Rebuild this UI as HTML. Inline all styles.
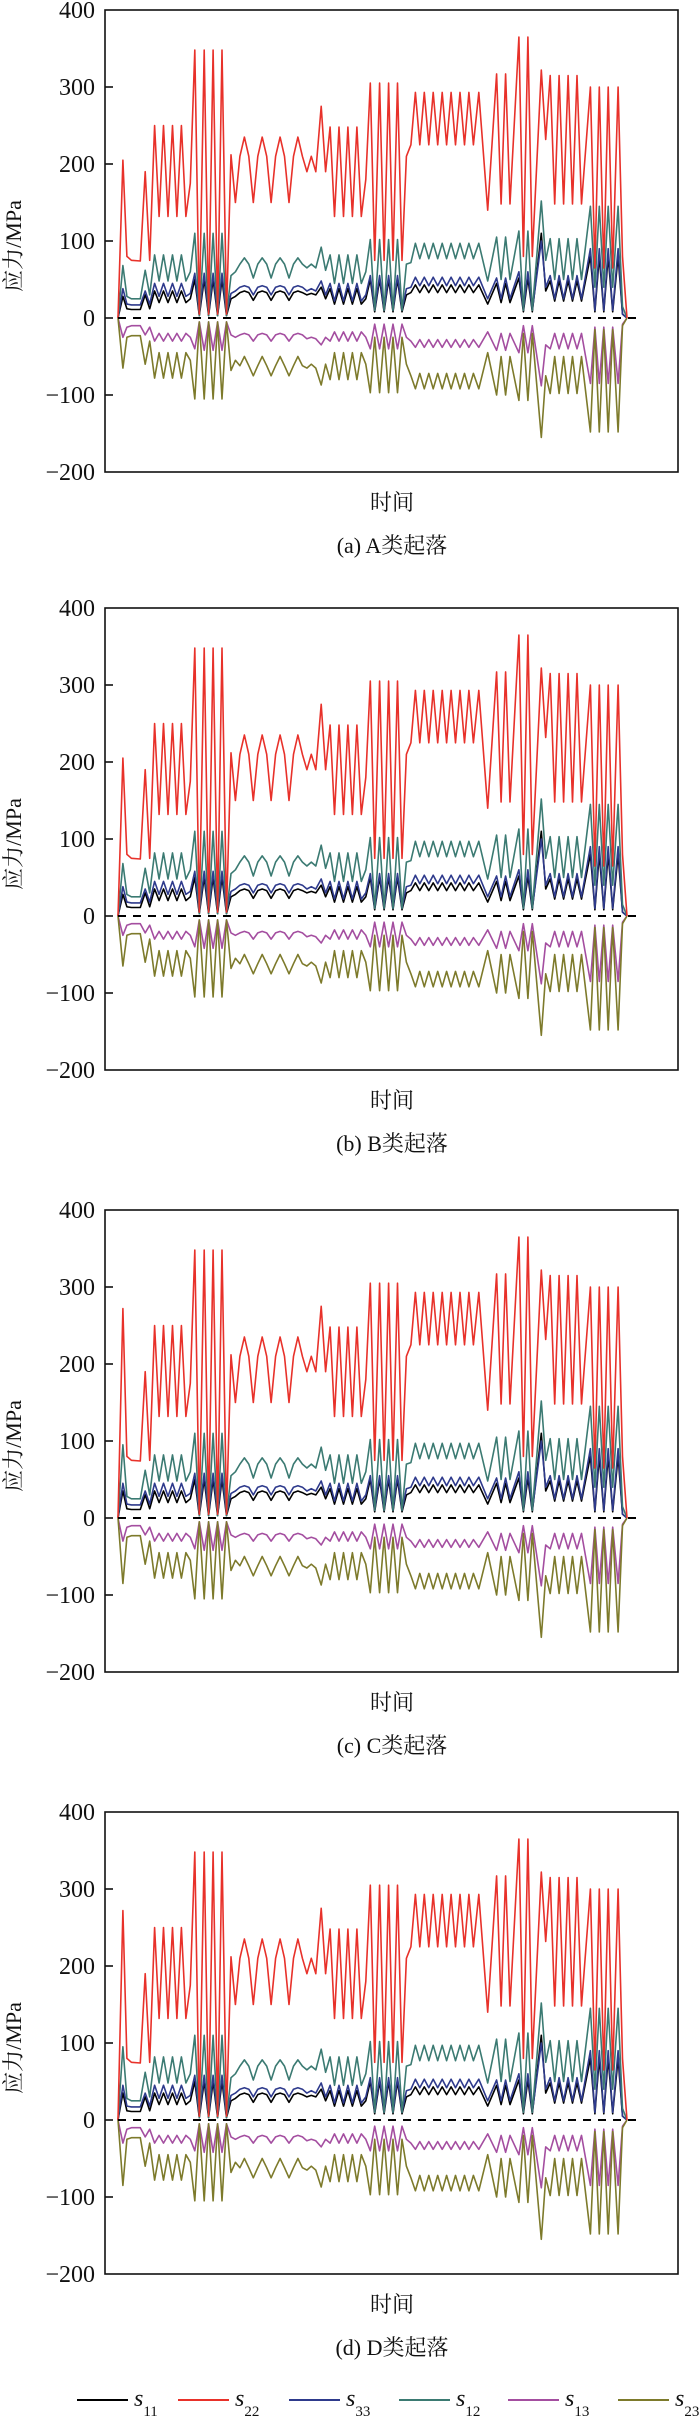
<!DOCTYPE html>
<html><head><meta charset="utf-8">
<style>
html,body{margin:0;padding:0;background:#fff;}
body{width:700px;height:2424px;overflow:hidden;}
svg{display:block;}
.tick{font-family:"Liberation Serif","Noto Serif CJK SC",serif;font-size:24px;fill:#111;}
.cn{font-family:"Liberation Serif","Noto Serif CJK SC",serif;font-size:22px;fill:#111;}
</style></head>
<body>
<svg id="fig" width="700" height="2424" viewBox="0 0 700 2424" xmlns="http://www.w3.org/2000/svg"></svg>
<script>
// ---- data ----
const timeUnits = [265,276,285,295,315,326,336,
347,357,367,377,387,397,407,417,427,
437,447,458,468,478,488,498,508,
518,528,538,548,558,568,578,588,598,608,618,628,638,648,658,668,678,688,698,708,
720,730,
740,750,760,770,780,790,800,810,820,
830,840,851,861,871,881,891,901,
911,921,
931,941,951,961,971,981,991,1001,1011,1021,1031,1041,1051,1061,1073,
1093,1113,1123,1133,1143,1163,1173,1183,1193,
1213,1223,
1233,1243,1253,1263,1273,1283,1293,1303,
1323,1333,1343,1353,1363,1373,1385,1395,1405];
const s22 = [0,205,80,75,74,190,75,
250,132,250,132,250,132,250,132,175,
348,5,348,5,348,5,348,5,
212,150,210,235,210,150,210,235,210,150,210,235,210,150,210,235,210,190,210,190,
275,190,
248,132,248,132,248,132,248,132,180,
305,75,305,75,305,75,305,75,
210,225,
293,225,293,225,293,225,293,225,293,225,293,225,293,225,293,
140,317,148,317,148,365,80,365,80,
322,232,
315,148,315,148,315,148,315,148,
300,65,300,65,300,65,300,80,0];
const s12 = [0,68,28,25,25,62,30,
82,48,82,48,82,48,82,48,60,
110,3,110,3,110,3,110,3,
55,60,70,78,70,52,70,78,70,52,70,78,70,52,70,78,70,65,70,65,
92,62,
82,45,82,45,82,45,82,45,60,
102,10,102,10,102,10,102,10,
70,72,
97,77,97,77,97,77,97,77,97,77,97,77,97,77,97,
48,105,50,105,50,113,10,113,10,
152,75,
103,50,103,50,103,50,103,50,
145,40,145,40,145,40,145,15,0];
const s33 = [0,38,18,17,17,35,18,
45,28,45,28,45,28,45,28,32,
58,5,58,5,58,5,58,5,
32,35,40,42,40,30,40,42,40,30,40,42,40,30,40,42,40,35,38,35,
48,30,
45,22,45,22,45,22,45,22,30,
55,10,55,10,55,10,55,10,
38,40,
53,42,53,42,53,42,53,42,53,42,53,42,53,42,53,
25,52,25,52,25,60,10,60,10,
100,40,
55,25,55,25,55,25,55,25,
90,10,90,10,90,10,90,5,0];
const s11 = [0,28,12,11,11,30,12,
35,20,35,20,35,20,35,20,25,
50,3,50,3,50,3,50,3,
25,28,33,35,33,23,33,35,33,23,33,35,33,23,33,35,33,30,32,30,
40,25,
38,18,38,18,38,18,38,18,25,
50,8,50,8,50,8,50,8,
30,33,
43,33,43,33,43,33,43,33,43,33,43,33,43,33,43,
18,45,20,45,20,52,8,52,8,
110,35,
48,22,48,22,48,22,48,22,
80,8,80,8,80,8,80,5,0];
const s13 = [0,-25,-12,-10,-10,-22,-12,
-30,-20,-30,-20,-30,-20,-30,-20,-25,
-40,-5,-42,-5,-42,-5,-42,-5,
-22,-25,-22,-20,-22,-30,-22,-20,-22,-30,-22,-20,-22,-30,-22,-20,-22,-27,-25,-27,
-35,-25,
-30,-18,-30,-18,-30,-18,-30,-18,-25,
-40,-8,-40,-8,-40,-8,-40,-8,
-25,-30,
-38,-28,-38,-28,-38,-28,-38,-28,-38,-28,-38,-28,-38,-28,-38,
-18,-42,-20,-42,-20,-45,-10,-45,-10,
-88,-35,
-40,-20,-40,-20,-40,-20,-40,-20,
-85,-12,-85,-12,-85,-12,-85,-8,0];
const s23 = [0,-65,-25,-23,-23,-60,-30,
-78,-45,-78,-45,-78,-45,-78,-45,-55,
-105,-5,-105,-5,-105,-5,-105,-5,
-68,-55,-62,-50,-62,-75,-62,-50,-62,-75,-62,-50,-62,-75,-62,-50,-62,-65,-60,-65,
-87,-60,
-80,-45,-80,-45,-80,-45,-80,-45,-60,
-97,-25,-97,-25,-97,-25,-97,-25,
-60,-75,
-92,-72,-92,-72,-92,-72,-92,-72,-92,-72,-92,-72,-92,-72,-92,
-45,-100,-50,-100,-50,-107,-20,-107,-20,
-155,-75,
-98,-50,-98,-50,-98,-50,-98,-50,
-148,-15,-148,-15,-148,-15,-148,-10,0];
const firstPeakS22 = [205,205,272,272];
const firstPeakS12 = [68,68,95,95];
const firstPeakS33 = [38,38,45,45];
const firstPeakS11 = [28,28,35,35];
const firstPeakS13 = [-25,-25,-30,-30];
const firstPeakS23 = [-65,-65,-85,-85];
const yTicks = [400,300,200,100,0,-100,-200];
const captions = ["(a) A类起落","(b) B类起落","(c) C类起落","(d) D类起落"];
const seriesNames = ["s11","s22","s33","s12","s13","s23"];
const seriesSubs = ["11","22","33","12","13","23"];

// ---- layout ----
const NS = "http://www.w3.org/2000/svg";
const svg = document.getElementById("fig");
const panelTops = [10,608,1210,1812];
const plotL = 105, plotR = 678, plotH = 462;
const colors = {s11:"#000000",s22:"#e8312a",s33:"#2e3a8c",s12:"#3b7a72",s13:"#a44ea0",s23:"#7d7a2b"};
const tMin = 265, tMax = 1405, xMin = 118, xMax = 627;
function xScale(t){return xMin + (t - tMin) / (tMax - tMin) * (xMax - xMin);}
function mk(tag, attrs, parent){const e=document.createElementNS(NS,tag);for(const k in attrs)e.setAttribute(k,attrs[k]);(parent||svg).appendChild(e);return e;}

panelTops.forEach((top, p) => {
  const yScale = v => top + (400 - v) / 600 * plotH;
  const g = mk("g", {});
  
  
  const frame = mk("rect", {x:plotL, y:top, width:plotR-plotL, height:plotH, fill:"none", stroke:"#111", "stroke-width":1.6}, g);
  
  
  yTicks.forEach(v => {
    const y = yScale(v);
    if (v < 400 && v > -200) {
      const tk = mk("line", {x1:plotL, x2:plotL+8, y1:y, y2:y, stroke:"#111", "stroke-width":1.6}, g);
      
      
    }
    const lb = mk("text", {x:95, y:y+8, "text-anchor":"end", class:"tick"}, g);
    lb.textContent = v < 0 ? "\u2212" + Math.abs(v) : String(v);
    
    
  });
  const order = ["s11","s33","s12","s13","s23","s22"];
  const dataMap = {s11, s22, s33, s12, s13, s23};
  const firstMap = {s11:firstPeakS11, s22:firstPeakS22, s33:firstPeakS33, s12:firstPeakS12, s13:firstPeakS13, s23:firstPeakS23};
  order.forEach(name => {
    const vals = dataMap[name].slice();
    vals[1] = firstMap[name][p];
    const d = vals.map((v,i) => (i?"L":"M") + xScale(timeUnits[i]).toFixed(1) + " " + yScale(v).toFixed(1)).join(" ");
    const path = mk("path", {d:d, fill:"none", stroke:colors[name], "stroke-width":1.6, "stroke-linejoin":"round"}, g);
    
    
  });
  const zl = mk("line", {x1:xMin, x2:640, y1:yScale(0), y2:yScale(0), stroke:"#000", "stroke-width":2, "stroke-dasharray":"8 7"}, g);
  
  
  const yt = mk("text", {x:0, y:0, "text-anchor":"middle", class:"cn", transform:"translate(21," + (top+236) + ") rotate(-90)"}, g);
  yt.textContent = "应力/MPa";
  
  
  const xt = mk("text", {x:392, y:top+500, "text-anchor":"middle", class:"cn"}, g);
  xt.textContent = "时间";
  
  
  const cp = mk("text", {x:392, y:top+543, "text-anchor":"middle", class:"cn"}, g);
  cp.textContent = captions[p];
  
  
});

// legend
const legendX = [77,178,289,399,508,618];
seriesNames.forEach((name, i) => {
  const g = mk("g", {});
  
  
  mk("line", {x1:legendX[i], x2:legendX[i]+51, y1:2400, y2:2400, stroke:colors[name], "stroke-width":2}, g);
  const t = mk("text", {x:legendX[i]+57, y:2406, style:"font-family:'Liberation Serif',serif;font-size:24px;font-style:italic;fill:#111"}, g);
  t.textContent = "s";
  const sb = mk("tspan", {dy:10, style:"font-size:15px;font-style:normal"}, t);
  sb.textContent = seriesSubs[i];
});
</script>
</body></html>
